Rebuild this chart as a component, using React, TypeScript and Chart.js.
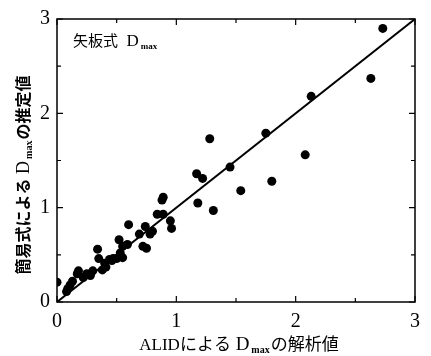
import React, { useEffect, useRef } from "react";
import { Chart, registerables } from "chart.js";

Chart.register(...registerables);

const analysisX: number[] = [
  0.0, 0.08, 0.09, 0.11, 0.13, 0.17, 0.18, 0.22, 0.25, 0.28, 0.3, 0.34, 0.35, 0.38, 0.4, 0.41, 0.44, 0.46, 0.47,
  0.5, 0.52, 0.53, 0.55, 0.55, 0.59, 0.6, 0.69, 0.72, 0.74, 0.75, 0.78, 0.8, 0.84, 0.88, 0.89, 0.89, 0.95, 0.96,
  1.17, 1.18, 1.22, 1.28, 1.31, 1.45, 1.54, 1.75, 1.8, 2.08, 2.13, 2.63, 2.73,
];
const estimateY: number[] = [
  0.21, 0.11, 0.14, 0.18, 0.22, 0.3, 0.33, 0.26, 0.3, 0.28, 0.33, 0.56, 0.46, 0.34, 0.41, 0.37, 0.45, 0.44, 0.46,
  0.46, 0.66, 0.52, 0.59, 0.47, 0.61, 0.82, 0.72, 0.59, 0.8, 0.57, 0.72, 0.75, 0.93, 1.08, 1.11, 0.93, 0.86, 0.78,
  1.36, 1.05, 1.31, 1.73, 0.97, 1.43, 1.18, 1.79, 1.28, 1.56, 2.18, 2.37, 2.9,
];
const lineX: number[] = [0, 3];
const lineY: number[] = [0, 3];
const tickValues: number[] = [0, 1, 2, 3];
const minorTickValues: number[] = [0.5, 1.5, 2.5];

type Seg = { t: string; kind: "text" | "D" | "sub" };

const xTitle: Seg[] = [
  { t: "ALIDによる", kind: "text" },
  { t: " D", kind: "D" },
  { t: "max", kind: "sub" },
  { t: "の解析値", kind: "text" },
];
const yTitle: Seg[] = [
  { t: "簡易式による", kind: "text" },
  { t: " D", kind: "D" },
  { t: "max", kind: "sub" },
  { t: "の推定値", kind: "text" },
];
const panelLabel: Seg[] = [
  { t: "矢板式", kind: "text" },
  { t: "  D", kind: "D" },
  { t: "max", kind: "sub" },
];

function drawRich(ctx: CanvasRenderingContext2D, segs: Seg[], cx: number, baseY: number, size: number, bold: boolean, center: boolean) {
  const fam = '"Liberation Serif", "Noto Sans CJK JP", serif';
  const w = bold ? "bold " : "";
  const fontFor = (s: Seg) =>
    s.kind === "sub"
      ? `bold ${Math.round(size * 0.6)}px ${fam}`
      : s.kind === "D"
      ? `${Math.round(size * 1.1)}px ${fam}`
      : `${w}${size}px ${fam}`;
  let total = 0;
  const widths: number[] = [];
  for (const s of segs) {
    ctx.font = fontFor(s);
    const m = ctx.measureText(s.t).width;
    widths.push(m);
    total += m + (s.kind === "sub" ? 3 : 0);
  }
  let x = center ? cx - total / 2 : cx;
  ctx.textBaseline = "alphabetic";
  ctx.textAlign = "left";
  segs.forEach((s, i) => {
    ctx.font = fontFor(s);
    ctx.fillText(s.t, x + (s.kind === "sub" ? 2 : 0), baseY + (s.kind === "sub" ? size * 0.2 : 0));
    x += widths[i] + (s.kind === "sub" ? 3 : 0);
  });
}

const framePlugin = {
  id: "framePlugin",
  afterDraw(chart: any) {
    const ctx: CanvasRenderingContext2D = chart.ctx;
    const { left, right, top, bottom } = chart.chartArea;
    const xs = chart.scales.x;
    const ys = chart.scales.y;
    ctx.save();
    ctx.strokeStyle = "#000";
    ctx.fillStyle = "#000";
    ctx.lineWidth = 1.5;
    ctx.strokeRect(left, top, right - left, bottom - top);
    const all = [...tickValues.map((v) => ({ v, L: 6 })), ...minorTickValues.map((v) => ({ v, L: 4 }))];
    ctx.lineWidth = 1.2;
    ctx.beginPath();
    for (const { v, L } of all) {
      const px = xs.getPixelForValue(v);
      ctx.moveTo(px, bottom);
      ctx.lineTo(px, bottom - L);
      ctx.moveTo(px, top);
      ctx.lineTo(px, top + L);
      const py = ys.getPixelForValue(v);
      ctx.moveTo(left, py);
      ctx.lineTo(left + L, py);
      ctx.moveTo(right, py);
      ctx.lineTo(right - L, py);
    }
    ctx.stroke();

    // x axis title
    drawRich(ctx, xTitle, 239, 350, 17, false, true);
    // y axis title
    ctx.save();
    ctx.translate(29, 175);
    ctx.rotate(-Math.PI / 2);
    drawRich(ctx, yTitle, 0, 0, 16, true, true);
    ctx.restore();
    // panel label
    drawRich(ctx, panelLabel, 73, 46, 15, false, false);
    ctx.restore();
  },
};

export default function App() {
  const ref = useRef<HTMLCanvasElement | null>(null);
  useEffect(() => {
    if (!ref.current) return;
    const chart = new Chart(ref.current, {
      type: "scatter",
      data: {
        datasets: [
          {
            type: "line",
            data: lineX.map((x, i) => ({ x, y: lineY[i] })),
            borderColor: "#000",
            borderWidth: 2,
            pointRadius: 0,
            fill: false,
          } as any,
          {
            type: "scatter",
            data: analysisX.map((x, i) => ({ x, y: estimateY[i] })),
            backgroundColor: "#000",
            borderColor: "#000",
            pointRadius: 4.5,
            borderWidth: 0,
          },
        ],
      },
      options: {
        animation: false,
        responsive: false,
        devicePixelRatio: 1,
        layout: { padding: { top: 13, right: 16, left: 0, bottom: 0 } },
        plugins: { legend: { display: false }, tooltip: { enabled: false } },
        scales: {
          x: {
            type: "linear",
            min: 0,
            max: 3,
            grid: { display: false, drawTicks: false },
            border: { display: false },
            afterBuildTicks: (s: any) => {
              s.ticks = tickValues.map((v) => ({ value: v }));
            },
            afterFit: (s: any) => {
              s.height = 54;
            },
            ticks: {
              autoSkip: false,
              maxRotation: 0,
              padding: 8,
              color: "#000",
              font: { family: '"Liberation Serif", serif', size: 20 },
              callback: (v: any) => String(v),
            },
          },
          y: {
            type: "linear",
            min: 0,
            max: 3,
            grid: { display: false, drawTicks: false },
            border: { display: false },
            afterBuildTicks: (s: any) => {
              s.ticks = tickValues.map((v) => ({ value: v }));
            },
            afterFit: (s: any) => {
              s.width = 57;
            },
            ticks: {
              autoSkip: false,
              padding: 7,
              color: "#000",
              font: { family: '"Liberation Serif", serif', size: 20 },
              callback: (v: any) => String(v),
            },
          },
        },
      },
      plugins: [framePlugin],
    });
    return () => chart.destroy();
  }, []);
  return (
    <div style={{ position: "absolute", left: 0, top: 0, width: 431, height: 356, background: "#fff" }}>
      <canvas ref={ref} width={431} height={356} />
    </div>
  );
}
